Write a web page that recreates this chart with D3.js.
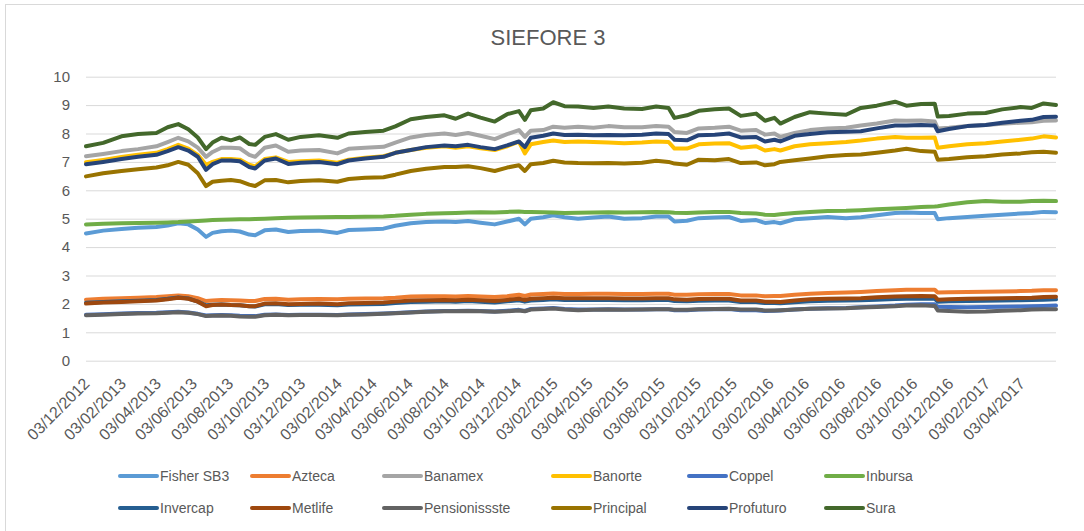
<!DOCTYPE html>
<html>
<head>
<meta charset="utf-8">
<script src="https://cdn.jsdelivr.net/npm/d3@7"></script>
<style>
  html, body { margin: 0; padding: 0; background: #fff; }
  svg { display: block; font-family: "Liberation Sans", Arial, sans-serif; }
</style>
</head>
<body>
<svg id="chart" width="1084" height="531"></svg>
<script>
// ---------------- DATA ----------------
const title = "SIEFORE 3";

const dates = [
  "2012-12-03","2013-01-01","2013-02-01","2013-03-01","2013-04-01","2013-04-20","2013-05-08","2013-05-25",
  "2013-06-10","2013-06-24","2013-07-05","2013-07-20","2013-08-05","2013-08-20","2013-09-05","2013-09-15",
  "2013-10-01","2013-10-20","2013-11-10","2013-12-01","2014-01-01","2014-02-01","2014-02-20","2014-03-20",
  "2014-04-20","2014-05-10","2014-06-05","2014-07-01","2014-08-01","2014-08-20","2014-09-10","2014-10-01",
  "2014-10-25","2014-11-15","2014-12-05","2014-12-15","2014-12-25","2015-01-15","2015-02-01","2015-02-20",
  "2015-03-15","2015-04-10","2015-05-05","2015-06-01","2015-07-01","2015-07-25","2015-08-15","2015-08-25",
  "2015-09-15","2015-10-05","2015-11-01","2015-11-25","2015-12-15","2016-01-10","2016-01-25","2016-02-10",
  "2016-02-20","2016-03-15","2016-04-10","2016-05-10","2016-06-10","2016-07-05","2016-08-01","2016-09-01",
  "2016-09-20","2016-10-15","2016-11-07","2016-11-12","2016-12-01","2017-01-01","2017-02-01","2017-03-01",
  "2017-04-01","2017-04-20","2017-05-10","2017-05-31"
];

const tickLabels = [
  "03/12/2012","03/02/2013","03/04/2013","03/06/2013","03/08/2013","03/10/2013","03/12/2013",
  "03/02/2014","03/04/2014","03/06/2014","03/08/2014","03/10/2014","03/12/2014",
  "03/02/2015","03/04/2015","03/06/2015","03/08/2015","03/10/2015","03/12/2015",
  "03/02/2016","03/04/2016","03/06/2016","03/08/2016","03/10/2016","03/12/2016",
  "03/02/2017","03/04/2017"
];

const yTicks = [0,1,2,3,4,5,6,7,8,9,10];

const seriesNames = ["Fisher SB3","Azteca","Banamex","Banorte","Coppel","Inbursa",
                     "Invercap","Metlife","Pensionissste","Principal","Profuturo","Sura"];
const seriesColors = ["#5b9bd5","#ed7d31","#a5a5a5","#ffc000","#4472c4","#70ad47",
                      "#255e91","#9e480e","#636363","#997300","#264478","#43682b"];

const fisher = [4.48,4.58,4.64,4.68,4.71,4.76,4.84,4.8,4.62,4.36,4.5,4.56,4.58,4.55,4.44,4.42,
  4.59,4.62,4.53,4.57,4.58,4.5,4.6,4.62,4.65,4.75,4.84,4.88,4.9,4.88,4.92,4.86,
  4.8,4.9,5.0,4.8,5.0,5.05,5.12,5.05,5.0,5.04,5.08,5.0,5.02,5.08,5.08,4.9,
  4.93,5.02,5.04,5.06,4.92,4.95,4.85,4.88,4.84,4.98,5.02,5.06,5.02,5.05,5.12,5.2,
  5.22,5.2,5.2,4.98,5.02,5.06,5.1,5.14,5.18,5.2,5.24,5.23];
const azteca = [2.15,2.18,2.2,2.22,2.24,2.27,2.3,2.27,2.2,2.1,2.12,2.14,2.13,2.12,2.1,2.1,
  2.17,2.18,2.15,2.16,2.17,2.16,2.18,2.19,2.2,2.22,2.26,2.27,2.27,2.26,2.28,2.26,
  2.24,2.27,2.32,2.28,2.33,2.35,2.37,2.35,2.35,2.36,2.36,2.35,2.35,2.36,2.36,2.32,
  2.32,2.34,2.35,2.35,2.3,2.3,2.27,2.28,2.28,2.32,2.36,2.38,2.4,2.42,2.45,2.48,
  2.5,2.5,2.5,2.4,2.41,2.42,2.43,2.44,2.45,2.46,2.48,2.48];
const banamex = [7.2,7.28,7.38,7.45,7.55,7.7,7.85,7.72,7.5,7.18,7.35,7.5,7.5,7.48,7.25,7.18,
  7.5,7.58,7.36,7.4,7.42,7.3,7.46,7.5,7.53,7.68,7.86,7.95,8.0,7.95,8.02,7.92,
  7.8,7.98,8.12,7.88,8.1,8.12,8.24,8.2,8.24,8.2,8.26,8.22,8.22,8.26,8.24,8.05,
  8.02,8.18,8.2,8.24,8.1,8.12,7.96,8.0,7.88,8.02,8.12,8.18,8.2,8.28,8.35,8.46,
  8.45,8.46,8.42,8.18,8.2,8.26,8.3,8.34,8.38,8.4,8.45,8.46];
const banorte = [6.99,7.07,7.17,7.25,7.32,7.45,7.6,7.47,7.25,6.9,7.0,7.1,7.1,7.08,6.9,6.84,
  7.1,7.16,7.0,7.02,7.05,6.97,7.08,7.15,7.2,7.32,7.42,7.5,7.55,7.5,7.55,7.48,
  7.42,7.55,7.71,7.3,7.62,7.7,7.75,7.7,7.72,7.7,7.68,7.66,7.68,7.72,7.7,7.47,
  7.47,7.62,7.65,7.66,7.5,7.55,7.4,7.45,7.4,7.55,7.62,7.66,7.7,7.75,7.82,7.88,
  7.85,7.85,7.86,7.5,7.55,7.62,7.66,7.72,7.78,7.82,7.9,7.86];
const coppel = [1.62,1.64,1.66,1.68,1.69,1.71,1.72,1.7,1.65,1.59,1.6,1.61,1.6,1.58,1.57,1.57,
  1.62,1.63,1.61,1.62,1.62,1.61,1.63,1.64,1.66,1.68,1.71,1.73,1.75,1.75,1.76,1.75,
  1.73,1.76,1.79,1.75,1.82,1.84,1.86,1.82,1.8,1.8,1.81,1.8,1.8,1.81,1.81,1.78,
  1.78,1.8,1.81,1.82,1.78,1.78,1.75,1.76,1.77,1.8,1.83,1.85,1.86,1.88,1.91,1.94,
  1.97,1.99,1.99,1.9,1.89,1.88,1.89,1.9,1.91,1.92,1.93,1.94];
const inbursa = [4.8,4.82,4.84,4.85,4.86,4.87,4.88,4.9,4.92,4.94,4.95,4.96,4.97,4.98,4.98,4.99,
  5.0,5.02,5.03,5.04,5.05,5.06,5.06,5.07,5.08,5.1,5.14,5.17,5.19,5.2,5.22,5.23,
  5.22,5.24,5.25,5.24,5.24,5.23,5.22,5.2,5.21,5.22,5.23,5.22,5.23,5.24,5.23,5.21,
  5.2,5.22,5.24,5.24,5.2,5.18,5.14,5.13,5.16,5.2,5.24,5.27,5.28,5.3,5.33,5.36,
  5.38,5.41,5.43,5.44,5.5,5.58,5.62,5.6,5.6,5.62,5.63,5.62];
const invercap = [2.04,2.07,2.09,2.11,2.14,2.18,2.23,2.19,2.08,1.95,1.97,1.98,1.96,1.95,1.92,1.91,
  1.99,2.0,1.96,1.97,1.97,1.95,1.98,1.99,2.0,2.03,2.07,2.08,2.09,2.08,2.1,2.08,
  2.05,2.09,2.13,2.08,2.12,2.14,2.16,2.14,2.14,2.14,2.14,2.13,2.13,2.14,2.14,2.1,
  2.09,2.11,2.12,2.12,2.07,2.07,2.03,2.03,2.02,2.06,2.09,2.11,2.12,2.13,2.15,2.17,
  2.18,2.19,2.18,2.08,2.09,2.1,2.11,2.12,2.13,2.14,2.15,2.16];
const metlife = [2.01,2.05,2.07,2.09,2.12,2.16,2.22,2.18,2.08,1.92,1.96,1.98,1.96,1.95,1.92,1.92,
  2.01,2.02,1.99,2.0,2.01,1.99,2.02,2.03,2.05,2.08,2.12,2.13,2.14,2.13,2.15,2.13,
  2.1,2.14,2.18,2.14,2.18,2.2,2.22,2.2,2.2,2.2,2.2,2.19,2.19,2.2,2.2,2.16,
  2.15,2.17,2.18,2.18,2.12,2.12,2.08,2.08,2.07,2.12,2.16,2.18,2.19,2.2,2.23,2.26,
  2.27,2.28,2.27,2.15,2.16,2.18,2.19,2.2,2.21,2.22,2.24,2.25];
const pensionissste = [1.6,1.62,1.64,1.66,1.67,1.69,1.71,1.69,1.64,1.57,1.58,1.59,1.58,1.56,1.55,1.55,
  1.6,1.62,1.6,1.61,1.61,1.6,1.62,1.63,1.65,1.67,1.7,1.72,1.74,1.74,1.75,1.74,
  1.72,1.74,1.77,1.74,1.8,1.82,1.84,1.8,1.78,1.79,1.8,1.79,1.8,1.81,1.81,1.79,
  1.79,1.81,1.82,1.83,1.8,1.8,1.77,1.77,1.78,1.8,1.83,1.84,1.85,1.87,1.89,1.92,
  1.94,1.95,1.93,1.77,1.75,1.72,1.73,1.76,1.78,1.8,1.81,1.81];
const principal = [6.49,6.6,6.68,6.74,6.8,6.88,7.0,6.9,6.6,6.15,6.3,6.34,6.36,6.32,6.2,6.15,
  6.35,6.36,6.28,6.33,6.35,6.3,6.4,6.44,6.46,6.55,6.68,6.76,6.82,6.82,6.85,6.78,
  6.68,6.8,6.88,6.68,6.92,6.96,7.04,6.98,6.96,6.95,6.96,6.94,6.97,7.04,7.0,6.94,
  6.9,7.08,7.06,7.1,6.96,6.98,6.88,6.92,7.0,7.06,7.12,7.2,7.24,7.26,7.32,7.4,
  7.46,7.38,7.36,7.08,7.1,7.16,7.2,7.26,7.3,7.34,7.36,7.32];
const profuturo = [6.92,7.0,7.1,7.18,7.25,7.38,7.52,7.4,7.18,6.72,6.92,7.05,7.05,7.02,6.82,6.77,
  7.05,7.12,6.93,6.97,7.0,6.92,7.05,7.12,7.18,7.32,7.42,7.52,7.58,7.55,7.6,7.52,
  7.45,7.58,7.72,7.52,7.85,7.92,8.0,7.95,7.96,7.94,7.95,7.94,7.96,8.0,7.98,7.78,
  7.76,7.94,7.96,8.0,7.86,7.88,7.72,7.78,7.72,7.92,7.98,8.04,8.06,8.08,8.18,8.28,
  8.28,8.3,8.28,8.08,8.16,8.26,8.3,8.38,8.45,8.48,8.58,8.59];
const sura = [7.55,7.67,7.9,7.98,8.02,8.22,8.33,8.15,7.86,7.45,7.68,7.85,7.76,7.86,7.63,7.6,
  7.88,7.98,7.78,7.88,7.94,7.85,8.0,8.05,8.1,8.25,8.5,8.58,8.64,8.52,8.7,8.56,
  8.42,8.68,8.79,8.48,8.82,8.88,9.1,8.96,8.95,8.9,8.95,8.88,8.86,8.95,8.9,8.55,
  8.64,8.8,8.85,8.88,8.62,8.7,8.45,8.55,8.35,8.58,8.75,8.7,8.66,8.9,8.98,9.12,
  8.98,9.04,9.05,8.6,8.62,8.7,8.72,8.85,8.93,8.9,9.06,9.0];

const seriesValues = [fisher, azteca, banamex, banorte, coppel, inbursa,
                      invercap, metlife, pensionissste, principal, profuturo, sura];

// ---------------- DRAW ----------------
const svg = d3.select("#chart");
const W = 1084, H = 531;
const margin = { left: 86, right: 1084 - 1056, top: 76.7, bottom: 531 - 360.7 };
const textColor = "#595959";
const gridColor = "#d9d9d9";

const parseISO = d3.timeParse("%Y-%m-%d");
const parseTick = d3.timeParse("%d/%m/%Y");
const xDates = dates.map(parseISO);

const x = d3.scaleTime()
  .domain([parseISO("2012-12-03"), parseISO("2017-05-31")])
  .range([margin.left, W - margin.right]);
const y = d3.scaleLinear()
  .domain([0, 10])
  .range([H - margin.bottom, margin.top]);

// chart area border
svg.append("rect")
  .attr("x", 5.5).attr("y", 4.5)
  .attr("width", 1090).attr("height", 540)
  .attr("fill", "#fff")
  .attr("stroke", gridColor).attr("stroke-width", 1);

// title
svg.append("text")
  .attr("x", 548).attr("y", 45)
  .attr("text-anchor", "middle")
  .attr("font-size", 22)
  .attr("fill", textColor)
  .text(title);

// y gridlines + labels via axis
const yAxis = d3.axisLeft(y)
  .tickValues(yTicks)
  .tickSize(-(W - margin.right - margin.left))
  .tickPadding(16)
  .tickFormat(d3.format("d"));
const gy = svg.append("g")
  .attr("transform", `translate(${margin.left},0)`)
  .call(yAxis);
gy.select(".domain").remove();
gy.selectAll(".tick line").attr("stroke", gridColor).attr("stroke-width", 1);
gy.selectAll(".tick text")
  .attr("fill", textColor)
  .attr("font-size", 15)
  .attr("font-family", "Liberation Sans, Arial, sans-serif");

// x axis labels
const xTickDates = tickLabels.map(parseTick);
const xAxis = d3.axisBottom(x)
  .tickValues(xTickDates)
  .tickSize(0)
  .tickFormat(d3.timeFormat("%d/%m/%Y"));
const gx = svg.append("g")
  .attr("transform", `translate(0,${H - margin.bottom})`)
  .call(xAxis);
gx.select(".domain").remove();
gx.selectAll(".tick text")
  .attr("fill", textColor)
  .attr("font-size", 16)
  .attr("font-family", "Liberation Sans, Arial, sans-serif")
  .attr("text-anchor", "end")
  .attr("y", 0)
  .attr("dy", "0.35em")
  .attr("transform", "translate(0,20) rotate(-45)");

// lines
const line = d3.line()
  .x((d, i) => x(xDates[i]))
  .y(d => y(d))
  .curve(d3.curveLinear);

const gLines = svg.append("g");
seriesValues.forEach((vals, k) => {
  gLines.append("path")
    .datum(vals)
    .attr("fill", "none")
    .attr("stroke", seriesColors[k])
    .attr("stroke-width", 4)
    .attr("stroke-linejoin", "round")
    .attr("stroke-linecap", "round")
    .attr("d", line);
});

// legend
const legendCols = [120, 252, 384, 553, 689, 826];
const legendRows = [476, 508];
const gLeg = svg.append("g");
seriesNames.forEach((name, k) => {
  const cx = legendCols[k % 6];
  const cy = legendRows[Math.floor(k / 6)];
  gLeg.append("line")
    .attr("x1", cx).attr("x2", cx + 37)
    .attr("y1", cy).attr("y2", cy)
    .attr("stroke", seriesColors[k])
    .attr("stroke-width", 4)
    .attr("stroke-linecap", "round");
  gLeg.append("text")
    .attr("x", cx + 40).attr("y", cy)
    .attr("dy", "0.35em")
    .attr("font-size", 14)
    .attr("fill", textColor)
    .text(name);
});
</script>
</body>
</html>
